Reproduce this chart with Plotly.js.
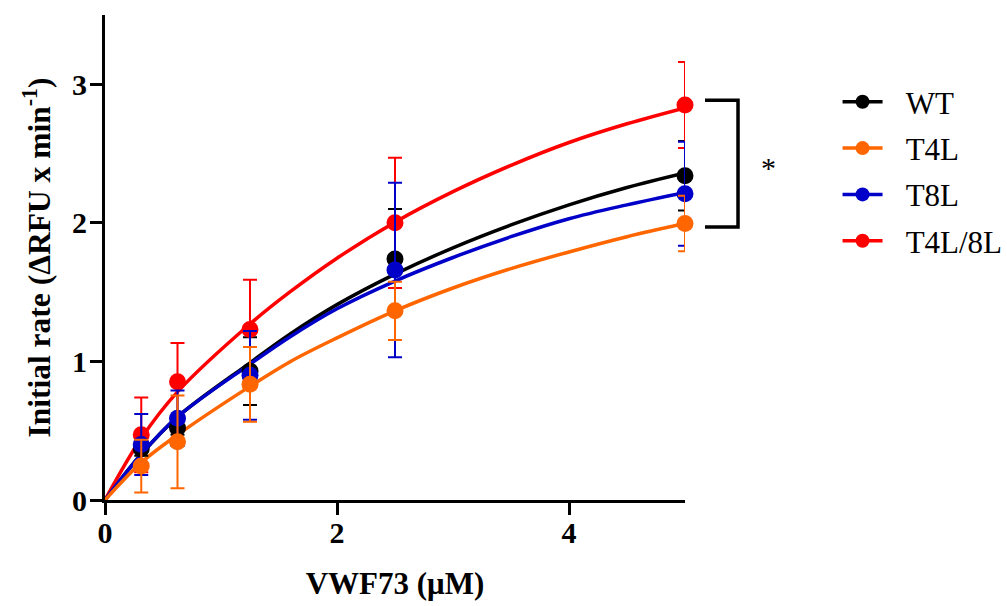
<!DOCTYPE html>
<html>
<head>
<meta charset="utf-8">
<script src="https://cdn.plot.ly/plotly-3.0.1.min.js"></script>
<style>html,body{margin:0;padding:0;background:#fff;}#chart{width:1007px;height:606px;}</style>
</head>
<body>
<div id="chart"></div>
<script>
// ---- data ----
const conc = [0.3125, 0.625, 1.25, 2.5, 5];          // VWF73 (µM)
const seriesNames = ['WT', 'T4L', 'T8L', 'T4L/8L'];
const seriesColors = ['#000000', '#FF6600', '#0000C8', '#FF0000'];

const wtMean   = [0.37, 0.52, 0.93, 1.74, 2.34];
const wtErr    = [0.05, 0.05, 0.245, 0.36, 0.25];
const t4lMean  = [0.245, 0.42, 0.835, 1.365, 1.995];
const t4lErr   = [0.19, 0.335, 0.27, 0.21, 0.20];
const t8lMean  = [0.40, 0.59, 0.90, 1.66, 2.21];
const t8lErr   = [0.22, 0.20, 0.32, 0.63, 0.375];
const dblMean  = [0.47, 0.853, 1.23, 2.00, 2.85];
const dblErr   = [0.27, 0.28, 0.36, 0.47, 0.31];

// fitted curves, values
const fitX     = [0, 0.3125, 0.625, 1.25, 1.6, 2, 2.5, 3, 3.5, 4, 4.5, 5];
const wtFit    = [0, 0.33, 0.60, 0.99, 1.20, 1.41, 1.63, 1.82, 1.985, 2.13, 2.255, 2.36];
const t4lFit   = [0, 0.27, 0.47, 0.82, 1.00, 1.17, 1.365, 1.53, 1.67, 1.79, 1.90, 1.995];
const t8lFit   = [0, 0.33, 0.60, 0.98, 1.18, 1.38, 1.58, 1.75, 1.90, 2.03, 2.13, 2.22];
const dblFit   = [0, 0.445, 0.78, 1.27, 1.505, 1.745, 2.005, 2.225, 2.415, 2.58, 2.715, 2.83];

// significance bracket (T4L/8L vs T4L at 5 µM)
const bracketY = [1.97, 2.885];
const sigLabel = '*';

const xTicks = [0, 2, 4];
const yTicks = [0, 1, 2, 3];

// ---- build traces ----
const means = [wtMean, t4lMean, t8lMean, dblMean];
const errs  = [wtErr, t4lErr, t8lErr, dblErr];
const fits  = [wtFit, t4lFit, t8lFit, dblFit];
const drawOrder = [0, 3, 2, 1];   // stacking order seen in the picture
const traces = [];

drawOrder.forEach(i => {
  traces.push({
    type: 'scatter', mode: 'lines', x: fitX, y: fits[i],
    line: {color: seriesColors[i], width: 3.5, shape: 'spline', smoothing: 1},
    showlegend: false, hoverinfo: 'skip', cliponaxis: false
  });
});
drawOrder.forEach(i => {
  traces.push({
    type: 'scatter', mode: 'markers', x: conc, y: means[i],
    marker: {color: seriesColors[i], size: 17},
    error_y: {type: 'data', array: errs[i], visible: true, color: seriesColors[i], thickness: 2, width: 7},
    showlegend: false, cliponaxis: false
  });
});
seriesNames.forEach((n, i) => {
  traces.push({
    type: 'scatter', mode: 'lines+markers', x: [null], y: [null], name: '\u2002\u200A' + n,
    line: {color: seriesColors[i], width: 3.5},
    marker: {color: seriesColors[i], size: 14},
    legendgroup: 'g' + i
  });
});

const serif = 'Liberation Serif, Times New Roman, serif';
const layout = {
  width: 1007, height: 606,
  margin: {l: 105, r: 322, t: 15, b: 106, autoexpand: false},
  paper_bgcolor: '#fff', plot_bgcolor: '#fff',
  showlegend: true,
  legend: {
    x: 1.263, y: 0.876, xanchor: 'left', yanchor: 'top',
    font: {family: serif, size: 31, color: '#000'},
    itemwidth: 40, tracegroupgap: 3, bgcolor: 'rgba(0,0,0,0)'
  },
  xaxis: {
    range: [0, 5], tickvals: xTicks, ticktext: xTicks.map(String), automargin: false,
    showgrid: false, zeroline: false, showline: true, linecolor: '#000', linewidth: 3,
    ticks: 'outside', ticklen: 12, tickwidth: 3, tickcolor: '#000', ticklabelstandoff: -8,
    tickfont: {family: serif, size: 30, color: '#000', weight: 'bold'},
    title: {text: 'VWF73 (μM)', font: {family: serif, size: 31, color: '#000', weight: 'bold'}, standoff: 25}
  },
  yaxis: {
    range: [0, 3.5], tickvals: yTicks, ticktext: yTicks.map(String), automargin: false,
    showgrid: false, zeroline: false, showline: true, linecolor: '#000', linewidth: 3,
    ticks: 'outside', ticklen: 12, tickwidth: 3, tickcolor: '#000', ticklabelstandoff: -3,
    tickfont: {family: serif, size: 30, color: '#000', weight: 'bold'},
    title: {text: 'Initial rate (ΔRFU x min<sup>-1</sup>)', font: {family: serif, size: 31.5, color: '#000', weight: 'bold'}, standoff: 12}
  },
  shapes: [{
    type: 'path', xref: 'paper', yref: 'y',
    path: 'M1.0345,' + bracketY[1] + ' L1.0914,' + bracketY[1] + ' L1.0914,' + bracketY[0] + ' L1.0345,' + bracketY[0],
    line: {color: '#000', width: 3.5}
  }],
  annotations: [{
    xref: 'paper', yref: 'y', x: 1.16, y: (bracketY[0] + bracketY[1]) / 2 - 0.03,
    text: sigLabel, showarrow: false, font: {family: serif, size: 30, color: '#000'}
  }]
};

Plotly.newPlot('chart', traces, layout, {displayModeBar: false, staticPlot: true});
</script>
</body>
</html>
